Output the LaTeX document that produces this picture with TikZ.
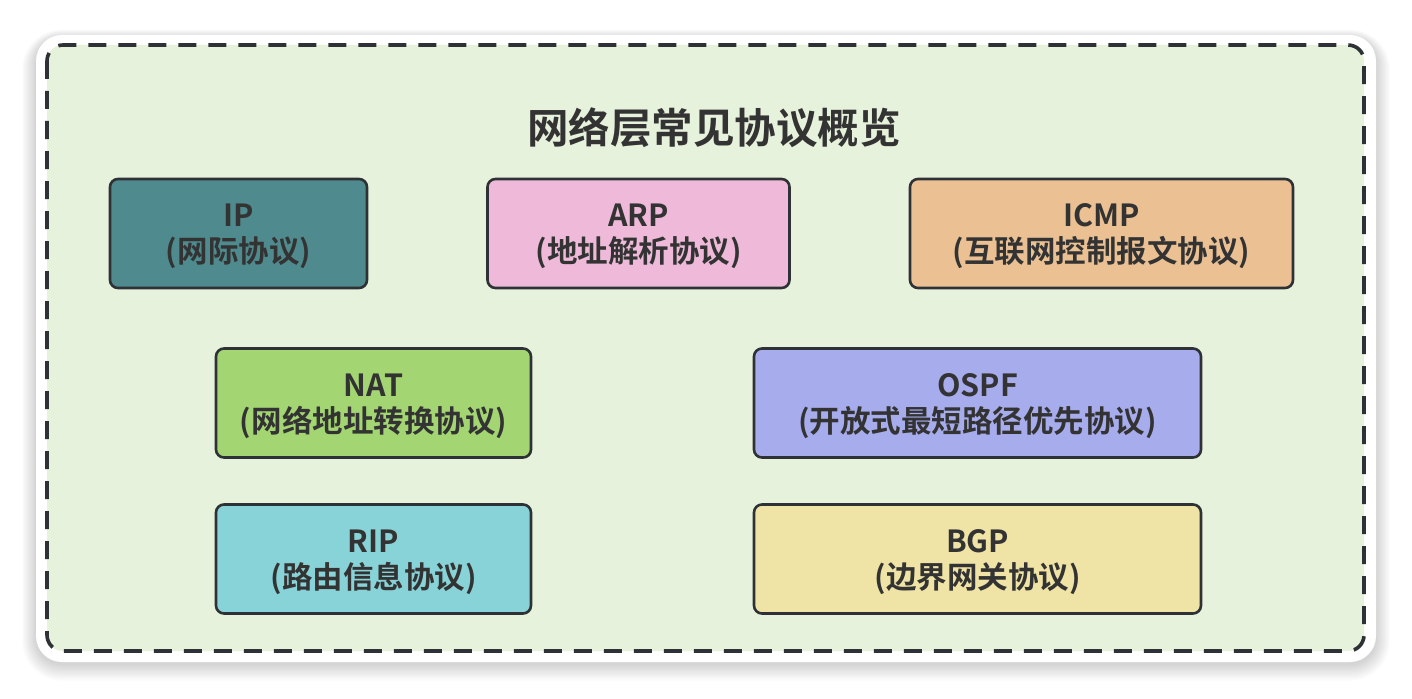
\documentclass[tikz,border=0pt]{standalone}
\usepackage{fontspec}
\setmainfont{Noto Sans CJK SC}[BoldFont={* Bold}]
\newfontfamily\cjkbold{Noto Sans CJK SC Bold}
\definecolor{txt}{HTML}{333333}
\definecolor{edge}{HTML}{2E3236}
\definecolor{panel}{HTML}{E6F2DB}
\definecolor{cIP}{HTML}{4F8B8E}
\definecolor{cARP}{HTML}{EFBAD9}
\definecolor{cICMP}{HTML}{EBC194}
\definecolor{cNAT}{HTML}{A3D672}
\definecolor{cOSPF}{HTML}{A7ACEC}
\definecolor{cRIP}{HTML}{88D3D7}
\definecolor{cBGP}{HTML}{EFE3A6}
\tikzset{
  proto/.style={draw=edge, line width=2.6pt, rounded corners=8pt, inner sep=0pt,
    minimum height=109pt},
  protolbl/.style={align=center, text=txt, inner sep=0pt,
    font=\cjkbold\fontsize{30.5}{36}\selectfont},
  ttl/.style={text=txt, font=\cjkbold\fontsize{41.5}{46}\selectfont, inner sep=0pt}
}
\begin{document}
\begin{tikzpicture}[x=1pt,y=-1pt]
\useasboundingbox (0,0) rectangle (1412,698);
\fill[white] (0,0) rectangle (1412,698);
% shadow of card
\foreach \i in {1,...,14}{
  \fill[black, opacity=0.012, rounded corners={26pt+\i pt}] (36-\i, 38-\i*0.6) rectangle (1376+\i, 664+\i*1.2);
}
\fill[white, rounded corners=26pt] (36,35) rectangle (1376,662);
\draw[edge, fill=panel, line width=3.6pt, dash pattern=on 18pt off 12pt, rounded corners=16pt] (47,45) rectangle (1364,651);
\node[ttl] (title) at (714,128) {网络层常见协议概览};
\node[proto, fill=cIP, minimum width=257pt] (ip) at (238.5,233.5) {};
\node[proto, fill=cARP, minimum width=302pt] (arp) at (638.5,233.5) {};
\node[proto, fill=cICMP, minimum width=383pt] (icmp) at (1101.5,233.5) {};
\node[proto, fill=cNAT, minimum width=315pt] (nat) at (373.5,403) {};
\node[proto, fill=cOSPF, minimum width=447pt] (ospf) at (977.5,403) {};
\node[proto, fill=cRIP, minimum width=315pt] (rip) at (373.5,559) {};
\node[proto, fill=cBGP, minimum width=447pt] (bgp) at (977.5,559) {};
\node[protolbl] (ipT) at ([yshift=-3pt]ip.center) {IP\\(网际协议)};
\node[protolbl] (arpT) at ([yshift=-3pt]arp.center) {ARP\\(地址解析协议)};
\node[protolbl] (icmpT) at ([yshift=-3pt]icmp.center) {ICMP\\(互联网控制报文协议)};
\node[protolbl] (natT) at ([yshift=-3pt]nat.center) {NAT\\(网络地址转换协议)};
\node[protolbl] (ospfT) at ([yshift=-3pt]ospf.center) {OSPF\\(开放式最短路径优先协议)};
\node[protolbl] (ripT) at ([yshift=-3pt]rip.center) {RIP\\(路由信息协议)};
\node[protolbl] (bgpT) at ([yshift=-3pt]bgp.center) {BGP\\(边界网关协议)};
\end{tikzpicture}
\end{document}
